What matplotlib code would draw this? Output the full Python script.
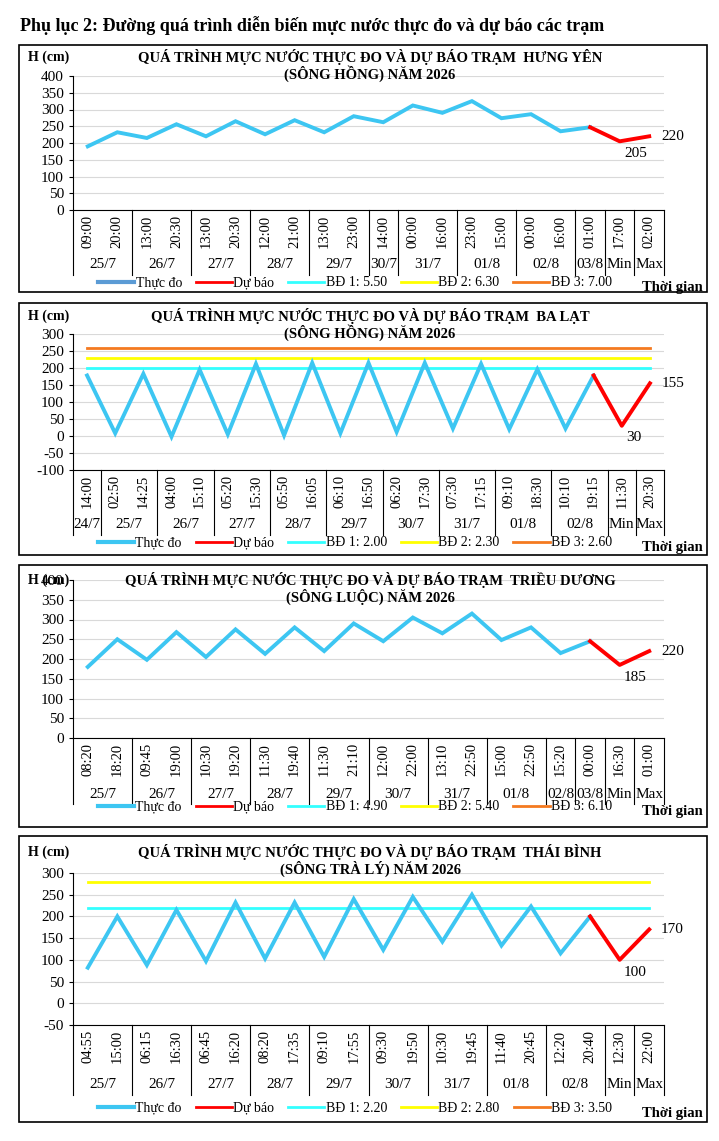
import matplotlib.pyplot as plt
from matplotlib.lines import Line2D

plt.rcParams['font.family'] = ['Liberation Serif', 'DejaVu Serif']
plt.rcParams['axes.unicode_minus'] = False

W, H = 719, 1141

# ---- data ----
hy_times = ['09:00', '20:00', '13:00', '20:30', '13:00', '20:30', '12:00', '21:00', '13:00', '23:00',
            '14:00', '00:00', '16:00', '23:00', '15:00', '00:00', '16:00', '01:00', '17:00', '02:00']
hy_days = [('25/7', 2), ('26/7', 2), ('27/7', 2), ('28/7', 2), ('29/7', 2), ('30/7', 1), ('31/7', 2),
           ('01/8', 2), ('02/8', 2), ('03/8', 1), ('Min', 1), ('Max', 1)]
hy_obs = [190, 232, 215, 256, 220, 265, 226, 268, 232, 280, 262, 312, 290, 325, 274, 286, 235, 247]
hy_fc = [205, 220]
hy_bd = [550, 630, 700]

bl_times = ['14:00', '02:50', '14:25', '04:00', '15:10', '05:20', '15:30', '05:50', '16:05', '06:10', '16:50',
            '06:20', '17:30', '07:30', '17:15', '09:10', '18:30', '10:10', '19:15', '11:30', '20:30']
bl_days = [('24/7', 1), ('25/7', 2), ('26/7', 2), ('27/7', 2), ('28/7', 2), ('29/7', 2), ('30/7', 2),
           ('31/7', 2), ('01/8', 2), ('02/8', 2), ('Min', 1), ('Max', 1)]
bl_obs = [178, 8, 183, -2, 195, 5, 212, 2, 215, 8, 215, 12, 215, 22, 212, 20, 196, 22, 178]
bl_fc = [30, 155]
bl_bd = [200, 230, 260]

td_times = ['08:20', '18:20', '09:45', '19:00', '10:30', '19:20', '11:30', '19:40', '11:30', '21:10',
            '12:00', '22:00', '13:10', '22:50', '15:00', '22:50', '15:20', '00:00', '16:30', '01:00']
td_days = [('25/7', 2), ('26/7', 2), ('27/7', 2), ('28/7', 2), ('29/7', 2), ('30/7', 2), ('31/7', 2),
           ('01/8', 2), ('02/8', 1), ('03/8', 1), ('Min', 1), ('Max', 1)]
td_obs = [180, 250, 198, 268, 205, 275, 213, 280, 220, 290, 245, 305, 265, 315, 248, 280, 215, 245]
td_fc = [185, 220]
td_bd = [490, 540, 610]

tb_times = ['04:55', '15:00', '06:15', '16:30', '06:45', '16:20', '08:20', '17:35', '09:10', '17:55',
            '09:30', '19:50', '10:30', '19:45', '11:40', '20:45', '12:20', '20:40', '12:30', '22:00']
tb_days = [('25/7', 2), ('26/7', 2), ('27/7', 2), ('28/7', 2), ('29/7', 2), ('30/7', 2), ('31/7', 2),
           ('01/8', 2), ('02/8', 2), ('Min', 1), ('Max', 1)]
tb_obs = [82, 200, 88, 215, 97, 232, 103, 232, 107, 240, 123, 245, 142, 250, 133, 223, 115, 200]
tb_fc = [100, 170]
tb_bd = [220, 280, 350]

OBS_C = '#3DC6F2'
FC_C = '#FF0000'
BD_C = ['#33FFFF', '#FFFF00', '#F47A20']


def fx(x):
    return x / W


def fy(y):
    return 1 - y / H


fig = plt.figure(figsize=(W / 100, H / 100), dpi=100)
fig.text(fx(20), fy(26), 'Phụ lục 2: Đường quá trình diễn biến mực nước thực đo và dự báo các trạm',
         fontsize=13, fontweight='bold', va='center')


def panel(box, plot, times, days, obs, fc, bd, ylim, station, river, legend_obs_c, axis_y, title_y):
    bx0, by0, bx1, by1 = box
    fig.add_artist(plt.Rectangle((fx(bx0), fy(by1)), fx(bx1 - bx0), (by1 - by0) / H,
                                 fill=False, lw=1.2, ec='black', transform=fig.transFigure))
    px0, py0, px1, py1 = plot
    ax = fig.add_axes([fx(px0), fy(py1), fx(px1 - px0), (py1 - py0) / H])
    n = len(times)
    ax.set_xlim(0, n)
    ax.set_ylim(*ylim)
    ax.set_yticks(range(ylim[0], ylim[1] + 1, 50))
    ax.tick_params(axis='y', labelsize=11, length=3)
    ax.grid(axis='y', color='#D9D9D9', lw=0.8)
    ax.set_axisbelow(True)
    for s in ['top', 'right']:
        ax.spines[s].set_visible(False)
    ax.spines['bottom'].set_visible(False)
    ax.set_xticks([])
    for v, c in zip(bd, BD_C):
        if ylim[0] <= v <= ylim[1]:
            ax.plot([0.5, n - 0.5], [v, v], color=c, lw=2)
    xs = [i + 0.5 for i in range(len(obs))]
    ax.plot(xs, obs, color=OBS_C, lw=2.8, solid_joinstyle='miter')
    fxs = [xs[-1], n - 1.5, n - 0.5]
    ax.plot(fxs, [obs[-1]] + fc, color=FC_C, lw=2.8)
    ax.text(n - 1.5 + 0.15, fc[0] - 0.04 * (ylim[1] - ylim[0]), str(fc[0]), fontsize=11, va='top')
    ax.text(n - 0.5 + 0.4, fc[1], str(fc[1]), fontsize=11, va='center')
    # category axis
    ybase = ylim[0]
    ax.plot([0, n], [ybase, ybase], color='black', lw=0.8, clip_on=False)
    h_unit = (ylim[1] - ylim[0]) / (py1 - py0)
    sep_bottom = ybase - (axis_y[1]) * h_unit
    for i, t in enumerate(times):
        ax.text(i + 0.5, ybase - 5 * h_unit, t, rotation=90, ha='center', va='top', fontsize=10.5)
    pos = 0
    edges = [0]
    for d, k in days:
        ax.text(pos + k / 2, ybase - axis_y[0] * h_unit, d, ha='center', va='center', fontsize=11)
        pos += k
        edges.append(pos)
    for e in edges:
        ax.plot([e, e], [ybase, sep_bottom], color='black', lw=0.8, clip_on=False)
    fig.text(fx(28), fy(title_y), 'H (cm)', fontsize=10, fontweight='bold', va='center')
    fig.text(fx(370), fy(title_y), 'QUÁ TRÌNH MỰC NƯỚC THỰC ĐO VÀ DỰ BÁO TRẠM  ' + station,
             ha='center', va='center', fontsize=10.5, fontweight='bold')
    fig.text(fx(370), fy(title_y + 17), '(' + river + ') NĂM 2026',
             ha='center', va='center', fontsize=10.5, fontweight='bold')
    handles = [Line2D([], [], color=legend_obs_c, lw=3),
               Line2D([], [], color=FC_C, lw=2),
               Line2D([], [], color=BD_C[0], lw=2),
               Line2D([], [], color=BD_C[1], lw=2),
               Line2D([], [], color=BD_C[2], lw=2)]
    labels = ['Thực đo', 'Dự báo', 'BĐ 1: %.2f' % (bd[0] / 100), 'BĐ 2: %.2f' % (bd[1] / 100),
              'BĐ 3: %.2f' % (bd[2] / 100)]
    fig.legend(handles, labels, loc='center', ncol=5, frameon=False, fontsize=10,
               bbox_to_anchor=(fx(355), fy(axis_y[2])), handlelength=2.6, columnspacing=1.0,
               handletextpad=0.1, borderpad=0)
    fig.text(fx(703), fy(axis_y[2] + 5), 'Thời gian', ha='right', va='center', fontsize=10.5,
             fontweight='bold')
    return ax


panel((19, 45, 707, 292), (73, 76, 664, 210), hy_times, hy_days, hy_obs, hy_fc, hy_bd, (0, 400),
      'HƯNG YÊN', 'SÔNG HỒNG', '#5B9BD5', (55, 65, 283), 57)
panel((19, 303, 707, 555), (73, 334, 664, 470), bl_times, bl_days, bl_obs, bl_fc, bl_bd, (-100, 300),
      'BA LẠT', 'SÔNG HỒNG', OBS_C, (55, 65, 543), 316)
panel((19, 565, 707, 827), (73, 580, 664, 738), td_times, td_days, td_obs, td_fc, td_bd, (0, 400),
      'TRIỀU DƯƠNG', 'SÔNG LUỘC', OBS_C, (56, 66, 807), 580)
panel((19, 836, 707, 1122), (73, 873, 664, 1025), tb_times, tb_days, tb_obs, tb_fc, tb_bd, (-50, 300),
      'THÁI BÌNH', 'SÔNG TRÀ LÝ', OBS_C, (60, 70, 1108), 852)

fig.savefig('out.png', dpi=100)
